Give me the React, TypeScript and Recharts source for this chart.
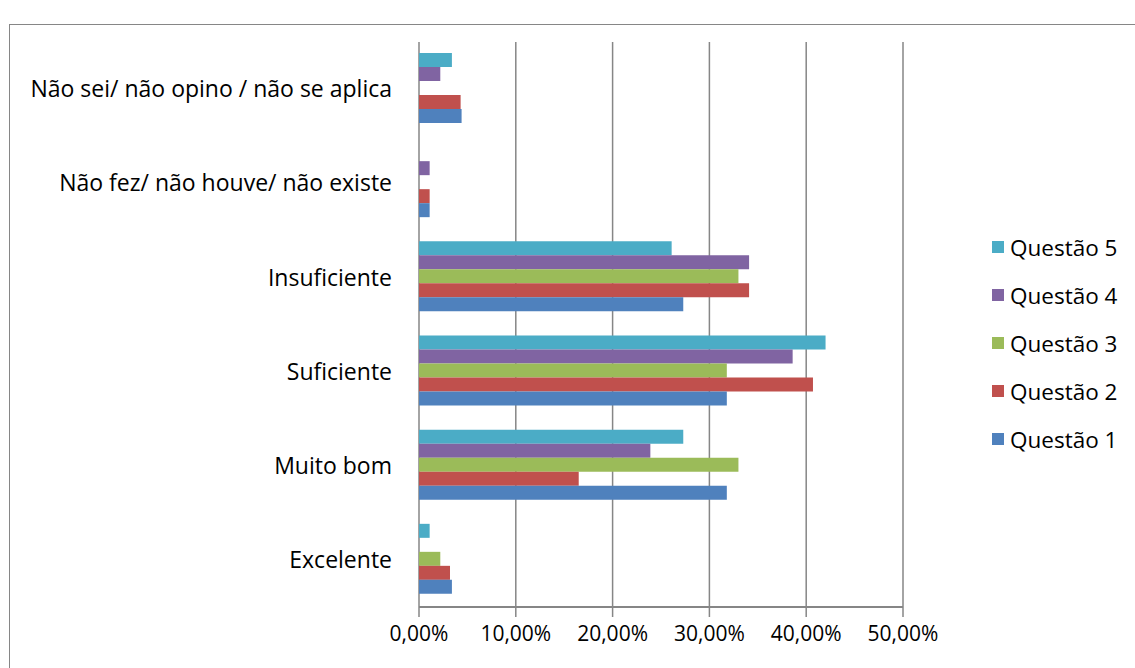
import React from "react";
import { BarChart, Bar, XAxis, YAxis, CartesianGrid } from "recharts";

const categories = [
  "Não sei/ não opino / não se aplica",
  "Não fez/ não houve/ não existe",
  "Insuficiente",
  "Suficiente",
  "Muito bom",
  "Excelente",
];
const q1 = [4.4, 1.1, 27.3, 31.8, 31.8, 3.4];
const q2 = [4.3, 1.1, 34.1, 40.7, 16.5, 3.2];
const q3 = [0, 0, 33.0, 31.8, 33.0, 2.2];
const q4 = [2.2, 1.1, 34.1, 38.6, 23.9, 0];
const q5 = [3.4, 0, 26.1, 42.0, 27.3, 1.1];
const xTicks = [0, 10, 20, 30, 40, 50];
const boundaryTicks = [0, 1, 2, 3, 4, 5, 6];

const seriesNames = ["Questão 5", "Questão 4", "Questão 3", "Questão 2", "Questão 1"];
const seriesKeys = ["q5", "q4", "q3", "q2", "q1"];
const seriesColors = ["#4BACC6", "#8064A2", "#9BBB59", "#C0504D", "#4F81BD"];

const data = categories.map((c, i) => ({
  cat: c,
  q1: q1[i],
  q2: q2[i],
  q3: q3[i],
  q4: q4[i],
  q5: q5[i],
}));

const FONT = "'Open Sans', 'Noto Sans', sans-serif";
const GRAY = "#868686";

const fmt = (v: number) => v.toFixed(2).replace(".", ",") + "%";

export default function App() {
  return (
    <div
      style={{
        position: "fixed",
        left: 0,
        top: 0,
        width: 1135,
        height: 668,
        overflow: "hidden",
        background: "#fff",
        fontFamily: FONT,
      }}
    >
      <div
        style={{
          position: "absolute",
          left: 9,
          top: 24,
          width: 1200,
          height: 700,
          borderTop: `1px solid ${GRAY}`,
          borderLeft: `1px solid ${GRAY}`,
        }}
      />
      <div style={{ position: "absolute", left: 0, top: 0 }}>
        <BarChart
          width={1135}
          height={668}
          data={data}
          layout="vertical"
          margin={{ top: 42, right: 232, bottom: 0, left: 0 }}
          barCategoryGap={11}
          barGap={0}
        >
          <CartesianGrid
            horizontal={false}
            vertical={true}
            stroke={GRAY}
            strokeWidth={1.5}
            xAxisId="x"
            yAxisId="cat"
          />
          <XAxis
            xAxisId="x"
            type="number"
            domain={[0, 50]}
            ticks={xTicks}
            tickFormatter={fmt}
            height={61}
            axisLine={{ stroke: GRAY, strokeWidth: 2 }}
            tickLine={{ stroke: GRAY, strokeWidth: 1.5 }}
            tickSize={10}
            tickMargin={9}
            tick={{ fill: "#000", fontSize: 21, fontFamily: FONT }}
            interval={0}
          />
          <YAxis
            yAxisId="bound"
            type="number"
            domain={[0, 6]}
            ticks={boundaryTicks}
            width={0}
            reversed={true}
            tick={false}
            tickSize={10}
            axisLine={{ stroke: GRAY, strokeWidth: 2 }}
            tickLine={{ stroke: GRAY, strokeWidth: 1.5 }}
          />
          <YAxis
            yAxisId="cat"
            type="category"
            dataKey="cat"
            width={419}
            axisLine={false}
            tickLine={false}
            tickSize={10}
            tickMargin={17}
            interval={0}
            tick={{ fill: "#000", fontSize: 23, fontFamily: FONT }}
          />
          {seriesKeys.map((k, i) => (
            <Bar
              key={k}
              dataKey={k}
              name={seriesNames[i]}
              fill={seriesColors[i]}
              xAxisId="x"
              yAxisId="cat"
              isAnimationActive={false}
            />
          ))}
        </BarChart>
      </div>
      {seriesNames.map((n, i) => (
        <div
          key={n}
          style={{
            position: "absolute",
            left: 992,
            top: 247 + i * 48 - 15,
            height: 30,
            display: "flex",
            alignItems: "center",
            fontSize: 22.5,
            color: "#000",
            whiteSpace: "nowrap",
          }}
        >
          <span
            style={{
              display: "inline-block",
              width: 12,
              height: 12,
              background: seriesColors[i],
              marginRight: 6,
            }}
          />
          {n}
        </div>
      ))}
    </div>
  );
}
